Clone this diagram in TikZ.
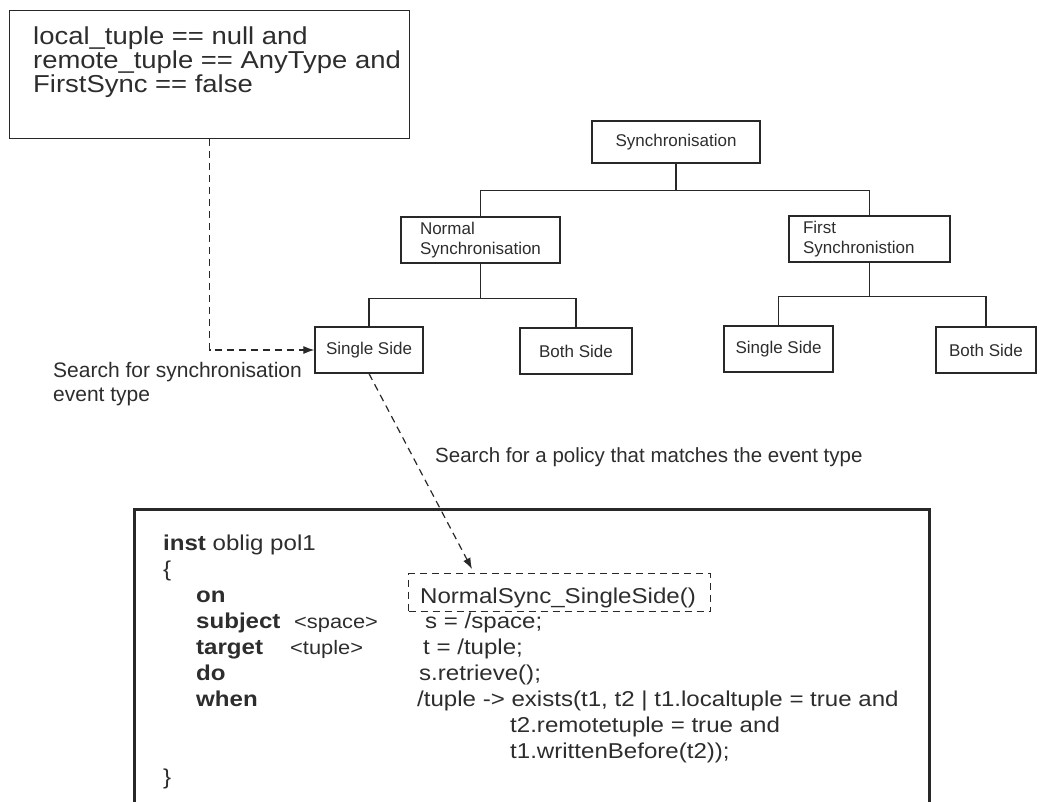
\documentclass[tikz,border=0pt]{standalone}
\usepackage{fontspec}
\setmainfont{Liberation Sans}
\newfontfamily\widefont[FakeStretch=1.12]{Liberation Sans}
\newfontfamily\polfont[FakeStretch=1.12]{Liberation Sans}
\usetikzlibrary{arrows.meta}
\definecolor{ink}{RGB}{40,40,40}
\definecolor{txt}{RGB}{45,45,45}
\begin{document}
\begin{tikzpicture}[x=1pt,y=-1pt,
  treebox/.style={draw=ink, line width=1.3pt, minimum height=46pt, inner sep=0pt, text=txt, font=\fontsize{17}{19.5}\selectfont},
  link/.style={draw=ink, line width=1.3pt},
  dashlink/.style={draw=ink, line width=1.2pt, dash pattern=on 7pt off 5pt, -{Latex[length=11pt,width=8pt]}},
  lbl/.style={inner sep=0pt, anchor=base west, text=txt, font=\fontsize{21}{24}\selectfont},
  cond/.style={inner sep=0pt, anchor=base west, text=txt, font=\widefont\fontsize{24.5}{24}\selectfont},
  pol/.style={inner sep=0pt, anchor=base west, text=txt, font=\polfont\fontsize{21.5}{24}\selectfont},
  polsmall/.style={pol, font=\polfont\fontsize{19.5}{22}\selectfont},
]
\useasboundingbox (0,0) rectangle (1042,801);

% condition box
\node[draw=ink, line width=1.3pt, minimum width=400pt, minimum height=128pt, anchor=north west, inner sep=0pt] (condbox) at (9,10) {};
\node[cond] (c1) at (33,44) {local\_tuple == null and};
\node[cond] (c2) at (33,68) {remote\_tuple == AnyType and};
\node[cond] (c3) at (33,92) {FirstSync == false};

% tree
\node[treebox, minimum width=168pt, minimum height=42pt] (sync) at (676,142) {Synchronisation};
\node[treebox, minimum width=159pt, align=left, text width=121pt] (normal) at (480.5,240) {Normal\\Synchronisation};
\node[treebox, minimum width=161pt, align=left, text width=133pt] (first) at (869.5,239) {First\\Synchronistion};
\node[treebox, minimum width=108pt] (ss1) at (369,350) {Single Side};
\node[treebox, minimum width=112pt] (bs1) at (576,351) {Both Side};
\node[treebox, minimum width=109pt] (ss2) at (778.5,349) {Single Side};
\node[treebox, minimum width=100pt] (bs2) at (986,350) {Both Side};

\draw[link] (sync.south) -- ++(0,27) coordinate (b1);
\draw[link] (normal.north) |- (b1) -| (first.north);
\draw[link] (normal.south) -- ++(0,35) coordinate (b2);
\draw[link] (ss1.north) |- (b2) -| (bs1.north);
\draw[link] (first.south) -- ++(0,34) coordinate (b3);
\draw[link] (ss2.north) |- (b3) -| (bs2.north);

% dashed arrow from condition
\draw[dashlink] (condbox.south) |- (ss1.west);
\node[lbl] (l1a) at (53,377) {Search for synchronisation};
\node[lbl] (l1b) at (53,401) {event type};

% policy box
\node[draw=ink, line width=2.6pt, minimum width=795pt, minimum height=340pt, anchor=north west, inner sep=0pt] (polbox) at (133,508) {};
\node[draw=ink, line width=1.1pt, dash pattern=on 7pt off 5pt, minimum width=302pt, minimum height=38pt, anchor=north west, inner sep=0pt] (evt) at (408,573) {};
\coordinate (tip) at (472,569);
\draw[dashlink] (ss1.south) -- (tip);
\node[lbl, font=\fontsize{20.5}{24}\selectfont] (l2) at (435,462) {Search for a policy that matches the event type};

\node[pol] (p1) at (163,550) {\textbf{inst} oblig pol1};
\node[pol] (p2) at (163,576) {\{};
\node[pol] (p3) at (196,602) {\textbf{on}};
\node[pol] (p3b) at (420,603) {NormalSync\_SingleSide()};
\node[pol] (p4) at (196,628) {\textbf{subject}};
\node[polsmall] (p4b) at (294,628) {<space>};
\node[pol] (p4c) at (425,628) {s = /space;};
\node[pol] (p5) at (196,654) {\textbf{target}};
\node[polsmall] (p5b) at (290,654) {<tuple>};
\node[pol] (p5c) at (423,654) {t = /tuple;};
\node[pol] (p6) at (196,680) {\textbf{do}};
\node[pol] (p6c) at (419,680) {s.retrieve();};
\node[pol] (p7) at (196,706) {\textbf{when}};
\node[pol] (p7c) at (417,706) {/tuple -> exists(t1, t2 | t1.localtuple = true and};
\node[pol] (p8c) at (510,732) {t2.remotetuple = true and};
\node[pol] (p9c) at (510,758) {t1.writtenBefore(t2));};
\node[pol] (p10) at (163,784) {\}};
\end{tikzpicture}
\end{document}
